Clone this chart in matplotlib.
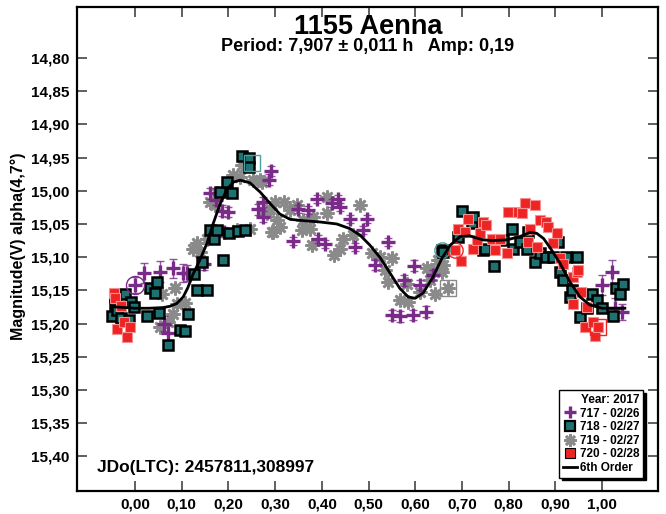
import matplotlib
matplotlib.use("Agg")
import matplotlib.pyplot as plt
from matplotlib.lines import Line2D

plt.rcParams["font.family"] = ["Liberation Sans", "DejaVu Sans"]
plt.rcParams["font.weight"] = "bold"

# ---- session 717 - 02/26 (purple crosses) ----
ph_717 = [0.000, 0.020, 0.054, 0.062, 0.071, 0.082, 0.102, 0.112, 0.148, 0.161,
          0.173, 0.186, 0.191, 0.198, 0.264, 0.273, 0.275, 0.286, 0.291, 0.339,
          0.350, 0.371, 0.389, 0.392, 0.407, 0.421, 0.435, 0.439, 0.460, 0.471,
          0.489, 0.496, 0.514, 0.542, 0.550, 0.567, 0.575, 0.596, 0.597, 0.610,
          0.623, 0.639, 1.001, 1.021, 1.028, 1.042]
mag_717 = [15.142, 15.124, 15.122, 15.200, 15.214, 15.117, 15.124, 15.124, 15.110, 15.004,
           15.014, 15.030, 15.062, 15.032, 15.028, 15.039, 15.017, 14.983, 14.970, 15.075,
           15.027, 15.029, 15.013, 15.072, 15.080, 15.019, 15.012, 15.024, 15.042, 15.084,
           15.059, 15.043, 15.112, 15.077, 15.187, 15.189, 15.135, 15.187, 15.113, 15.142,
           15.182, 15.127, 15.142, 15.122, 15.177, 15.182]
err_717 = [0.012, 0.015, 0.016, 0.012, 0.012, 0.014, 0.014, 0.012, 0.010, 0.008,
           0.008, 0.008, 0.008, 0.008, 0.008, 0.008, 0.008, 0.008, 0.008, 0.006,
           0.006, 0.006, 0.006, 0.006, 0.006, 0.006, 0.006, 0.006, 0.006, 0.006,
           0.006, 0.006, 0.008, 0.006, 0.008, 0.008, 0.008, 0.008, 0.008, 0.008,
           0.008, 0.008, 0.015, 0.018, 0.015, 0.012]

# ---- session 718 - 02/27 (teal squares) ----
ph_718 = [-0.050, -0.044, -0.043, -0.038, -0.030, -0.021, -0.013, -0.009, -0.002, 0.026,
          0.031, 0.043, 0.046, 0.052, 0.071, 0.096, 0.107, 0.114, 0.126, 0.132,
          0.143, 0.155, 0.161, 0.169, 0.175, 0.182, 0.188, 0.196, 0.202, 0.208,
          0.221, 0.228, 0.236, 0.243, 0.245,
          0.657, 0.660, 0.692, 0.700, 0.721, 0.724, 0.746, 0.749, 0.769, 0.789,
          0.807, 0.810, 0.824, 0.839, 0.842, 0.857, 0.867, 0.881, 0.896, 0.906,
          0.910, 0.917, 0.924, 0.931, 0.935, 0.946, 0.953, 0.967, 0.978, 0.989,
          0.999, 1.024, 1.031, 1.039, 1.046]
mag_718 = [15.189, 15.160, 15.171, 15.180, 15.192, 15.155, 15.194, 15.167, 15.175, 15.189,
           15.146, 15.154, 15.137, 15.184, 15.233, 15.210, 15.212, 15.185, 15.125, 15.149,
           15.107, 15.150, 15.059, 15.073, 15.059, 15.002, 15.105, 14.987, 15.064, 15.004,
           15.060, 14.948, 15.059, 14.951, 14.964,
           15.089, 15.092, 15.069, 15.030, 15.049, 15.039, 15.089, 15.087, 15.114, 15.074,
           15.057, 15.087, 15.077, 15.087, 15.062, 15.107, 15.094, 15.100, 15.100, 15.077,
           15.122, 15.135, 15.100, 15.160, 15.150, 15.100, 15.190, 15.177, 15.155, 15.165,
           15.177, 15.189, 15.147, 15.155, 15.140]
err_718 = [0.006] * len(ph_718)

# ---- session 719 - 02/27 (grey asterisks) ----
ph_719 = [0.054, 0.057, 0.071, 0.082, 0.086, 0.089, 0.107, 0.125, 0.133, 0.139,
          0.154, 0.161, 0.171, 0.176, 0.210, 0.218, 0.225, 0.228, 0.234, 0.246,
          0.253, 0.268, 0.271, 0.282, 0.289, 0.293, 0.296, 0.300, 0.303, 0.310,
          0.318, 0.332, 0.346, 0.357, 0.360, 0.375, 0.378, 0.382, 0.410, 0.410,
          0.425, 0.439, 0.446, 0.467, 0.482, 0.507, 0.525, 0.535, 0.542, 0.550,
          0.567, 0.582, 0.585, 0.610, 0.625, 0.632, 0.639, 0.642, 0.649, 0.657,
          0.660, 0.671]
mag_719 = [15.205, 15.155, 15.198, 15.185, 15.146, 15.170, 15.169, 15.088, 15.079, 15.092,
           15.072, 15.017, 15.022, 15.004, 14.976, 15.059, 14.979, 14.961, 14.951, 15.057,
           14.984, 14.984, 14.987, 15.034, 15.027, 15.062, 15.062, 15.017, 15.044, 15.054,
           15.017, 15.029, 15.022, 15.059, 15.044, 15.057, 15.082, 15.039, 15.009, 15.034,
           15.097, 15.087, 15.072, 15.067, 15.022, 15.094, 15.100, 15.120, 15.137, 15.102,
           15.165, 15.140, 15.167, 15.152, 15.117, 15.135, 15.120, 15.155, 15.105, 15.122,
           15.112, 15.147]
err_719 = [0.005] * len(ph_719)

# ---- session 720 - 02/28 (red squares) ----
ph_720 = [-0.046, -0.043, -0.038, -0.030, -0.023, -0.018, -0.011,
          0.685, 0.692, 0.697, 0.707, 0.714, 0.724, 0.732, 0.739, 0.746, 0.752,
          0.764, 0.771, 0.782, 0.796, 0.799, 0.821, 0.828, 0.835, 0.842, 0.846,
          0.857, 0.860, 0.867, 0.881, 0.885, 0.896, 0.903, 0.910, 0.917, 0.939,
          0.939, 0.946, 0.949, 0.956, 0.964, 0.967, 0.981, 0.984, 0.992]
mag_720 = [15.154, 15.162, 15.208, 15.174, 15.198, 15.220, 15.205,
           15.089, 15.057, 15.106, 15.062, 15.042, 15.088, 15.074, 15.064, 15.047, 15.052,
           15.072, 15.089, 15.073, 15.094, 15.032, 15.032, 15.034, 15.019, 15.077, 15.057,
           15.022, 15.084, 15.044, 15.047, 15.054, 15.079, 15.064, 15.102, 15.110, 15.130,
           15.170, 15.122, 15.120, 15.152, 15.205, 15.175, 15.198, 15.219, 15.205]
err_720 = [0.004] * len(ph_720)

# first observation of each session, ringed on the plot
first_717 = (0.000, 15.142)
first_718 = [(0.657, 15.089), (0.250, 14.958)]
first_719 = (0.671, 15.147)
first_720 = [(0.685, 15.089), (0.992, 15.205)]

# ---- 6th order Fourier fit, sampled ----
fit_phase = [-0.045, -0.020, 0.000, 0.030, 0.060, 0.075, 0.089, 0.103, 0.113, 0.124,
             0.139, 0.154, 0.167, 0.182, 0.196, 0.210, 0.225, 0.246, 0.268, 0.289,
             0.310, 0.332, 0.360, 0.396, 0.432, 0.460, 0.482, 0.503, 0.525, 0.546,
             0.567, 0.585, 0.600, 0.617, 0.638, 0.657, 0.675, 0.696, 0.717, 0.745,
             0.767, 0.796, 0.824, 0.845, 0.860, 0.875, 0.889, 0.910, 0.931, 0.953,
             0.974, 1.000, 1.049]
fit_mag = [15.175, 15.176, 15.177, 15.177, 15.176, 15.174, 15.170, 15.160, 15.146, 15.126,
           15.104, 15.079, 15.050, 15.020, 14.999, 14.987, 14.984, 14.988, 15.002, 15.019,
           15.035, 15.043, 15.045, 15.047, 15.050, 15.057, 15.067, 15.082, 15.101, 15.124,
           15.147, 15.160, 15.162, 15.154, 15.130, 15.102, 15.082, 15.069, 15.068, 15.074,
           15.075, 15.074, 15.069, 15.063, 15.064, 15.072, 15.086, 15.109, 15.137, 15.160,
           15.172, 15.177, 15.177]

x_ticks = [0.0, 0.1, 0.2, 0.3, 0.4, 0.5, 0.6, 0.7, 0.8, 0.9, 1.0]
y_ticks = [14.80, 14.85, 14.90, 14.95, 15.00, 15.05, 15.10, 15.15, 15.20, 15.25, 15.30, 15.35, 15.40]

PURPLE = "#7a2a88"
TEAL = "#1e7272"
GREY = "#8a8a8a"
RED = "#ee2424"

fig = plt.figure(figsize=(6.66, 5.14), dpi=100)
ax = fig.add_axes([0.1152, 0.0453, 0.8735, 0.9411])

# grey asterisks
ax.errorbar(ph_719, mag_719, yerr=err_719, fmt="none", ecolor="#b0b0b0", elinewidth=1,
            capsize=2, zorder=2)
ax.plot(ph_719, mag_719, ls="none", marker=(8, 2, 0), ms=10, mew=1.9, color=GREY, zorder=2)

# purple crosses
ax.errorbar(ph_717, mag_717, yerr=err_717, fmt="none", ecolor=PURPLE, elinewidth=1,
            capsize=3, alpha=0.8, zorder=3)
ax.plot(ph_717, mag_717, ls="none", marker="+", ms=10, mew=2.4, color=PURPLE, zorder=3)

# teal squares
ax.errorbar(ph_718, mag_718, yerr=err_718, fmt="none", ecolor="#4aa0a0", elinewidth=1,
            capsize=3, zorder=4)
ax.plot(ph_718, mag_718, ls="none", marker="s", ms=7.5, mew=1.8, mfc=TEAL, mec="black",
        zorder=4)

# red squares
ax.errorbar(ph_720, mag_720, yerr=err_720, fmt="none", ecolor="#f07070", elinewidth=1,
            capsize=3, zorder=5)
ax.plot(ph_720, mag_720, ls="none", marker="s", ms=7.5, mew=0.8, mfc=RED, mec="#f49090",
        zorder=5)

# rings around the first observation of each session
ax.plot(*first_717, marker="o", ms=13, mfc="none", mec=PURPLE, mew=1, zorder=6)
ax.plot(*first_718[0], marker="o", ms=11, mfc="none", mec="#4aa0a0", mew=1, zorder=6)
ax.plot(*first_718[1], marker="s", ms=12, mfc="none", mec="#4aa0a0", mew=1, zorder=6)
ax.plot(*first_719, marker="s", ms=12, mfc="none", mec=GREY, mew=1, zorder=6)
ax.plot(*first_720[0], marker="o", ms=11, mfc="none", mec=RED, mew=1, zorder=6)
ax.plot(*first_720[1], marker="s", ms=12, mfc="none", mec=RED, mew=1, zorder=6)

# fitted curve
ax.plot(fit_phase, fit_mag, color="black", lw=2, zorder=7)

ax.set_xlim(-0.125, 1.121)
ax.set_ylim(15.452, 14.723)
ax.set_xticks(x_ticks)
ax.set_xticklabels([f"{v:.2f}".replace(".", ",") for v in x_ticks])
ax.set_yticks(y_ticks)
ax.set_yticklabels([f"{v:.2f}".replace(".", ",") for v in y_ticks])
ax.tick_params(direction="in", top=True, right=True, length=7, width=1.2,
               color="#444444", labelsize=11, pad=5)
for lab in ax.get_xticklabels() + ax.get_yticklabels():
    lab.set_fontweight("bold")
for sp in ax.spines.values():
    sp.set_linewidth(1.6)

ax.text(0.5007, 0.9587, "1155 Aenna", transform=ax.transAxes, ha="center", va="center",
        fontsize=19.5, fontweight="bold")
ax.text(0.5007, 0.9173, "Period: 7,907 \u00b1 0,011 h   Amp: 0,19", transform=ax.transAxes,
        ha="center", va="center", fontsize=13, fontweight="bold")
ax.text(0.035, 0.049, "JDo(LTC): 2457811,308997", transform=ax.transAxes, ha="left",
        va="center", fontsize=12.5, fontweight="bold")
fig.text(0.027, 0.52, "Magnitude(V) alpha(4,7\u00b0)", rotation=90, ha="center",
         va="center", fontsize=11.5, fontweight="bold")

handles = [
    Line2D([], [], ls="none", marker="+", ms=9, mew=2.4, color=PURPLE),
    Line2D([], [], ls="none", marker="s", ms=7, mew=1.6, mfc=TEAL, mec="black"),
    Line2D([], [], ls="none", marker=(8, 2, 0), ms=9, mew=1.9, color=GREY),
    Line2D([], [], ls="none", marker="s", ms=7, mew=0.8, mfc=RED, mec="black"),
    Line2D([], [], color="black", lw=2),
]
labels = ["717 - 02/26", "718 - 02/27", "719 - 02/27", "720 - 02/28", "6th Order"]
leg = ax.legend(handles, labels, title="Year: 2017", loc="lower right",
                bbox_to_anchor=(0.974, 0.027), prop={"weight": "bold", "size": 8.5},
                title_fontproperties={"weight": "bold", "size": 8.5},
                alignment="right", frameon=True, fancybox=False,
                shadow={"color": "black", "alpha": 1}, borderpad=0.3,
                labelspacing=0.14, handlelength=1.2, handletextpad=0.3,
                borderaxespad=0)
leg.get_frame().set_edgecolor("black")
leg.get_frame().set_linewidth(1)

fig.savefig("out.png", dpi=100)
